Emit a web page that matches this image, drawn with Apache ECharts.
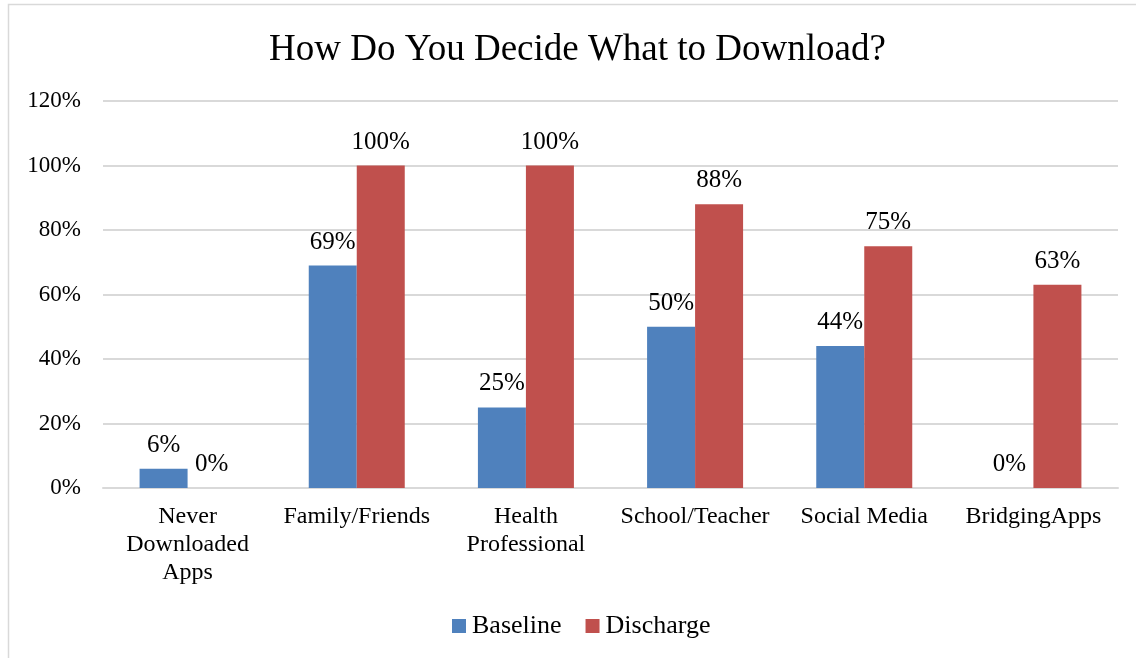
<!DOCTYPE html>
<html>
<head>
<meta charset="utf-8">
<script src="https://cdn.jsdelivr.net/npm/echarts@6/dist/echarts.min.js"></script>
<style>
  html, body { margin: 0; padding: 0; background: #fff; }
  #chart { width: 1136px; height: 658px; }
</style>
</head>
<body>
<div id="chart"></div>
<script>
// chart data
const categories = ['Never\nDownloaded\nApps', 'Family/Friends', 'Health\nProfessional', 'School/Teacher', 'Social Media', 'BridgingApps'];
const baseline = [6, 69, 25, 50, 44, 0];
const discharge = [0, 100, 100, 88, 75, 63];
const yTicks = [0, 20, 40, 60, 80, 100, 120];

const font = 'Liberation Serif, Times New Roman, serif';
const chart = echarts.init(document.getElementById('chart'));

const barLabel = {
  show: true,
  position: 'top',
  distance: 11,
  formatter: '{c}%',
  fontFamily: font,
  fontSize: 25,
  color: '#000'
};

chart.setOption({
  animation: false,
  title: {
    text: 'How Do You Decide What to Download?',
    left: 264,
    top: 27,
    textStyle: { fontFamily: font, fontSize: 37, fontWeight: 'normal', color: '#000' }
  },
  graphic: [{
    type: 'rect',
    shape: { x: 8.5, y: 4.5, width: 1200, height: 700 },
    style: { fill: 'none', stroke: '#d9d9d9', lineWidth: 1.5 },
    silent: true
  }],
  legend: {
    top: 608,
    left: 447,
    itemWidth: 14,
    itemHeight: 14,
    itemGap: 24,
    icon: 'rect',
    textStyle: { fontFamily: font, fontSize: 26, color: '#000', padding: [0, 0, 0, 1] },
    data: ['Baseline', 'Discharge']
  },
  grid: { left: 103, right: 18, top: 101, bottom: 170 },
  xAxis: {
    type: 'category',
    data: categories,
    axisLine: { lineStyle: { color: '#d9d9d9', width: 2 } },
    axisTick: { show: false },
    axisLabel: { fontFamily: font, fontSize: 24, color: '#000', lineHeight: 28, margin: 15, interval: 0 }
  },
  yAxis: {
    type: 'value',
    min: yTicks[0],
    max: yTicks[yTicks.length - 1],
    interval: 20,
    axisLine: { show: false },
    axisTick: { show: false },
    axisLabel: { fontFamily: font, fontSize: 23, color: '#000', formatter: '{value}%', margin: 22 },
    splitLine: { lineStyle: { color: '#d9d9d9', width: 2 } }
  },
  series: [
    {
      name: 'Baseline',
      type: 'bar',
      data: baseline,
      barWidth: 48,
      barGap: '0%',
      itemStyle: { color: '#4F81BD' },
      label: barLabel
    },
    {
      name: 'Discharge',
      type: 'bar',
      data: discharge,
      barWidth: 48,
      barGap: '0%',
      itemStyle: { color: '#C0504D' },
      label: barLabel
    }
  ]
});
</script>
</body>
</html>
